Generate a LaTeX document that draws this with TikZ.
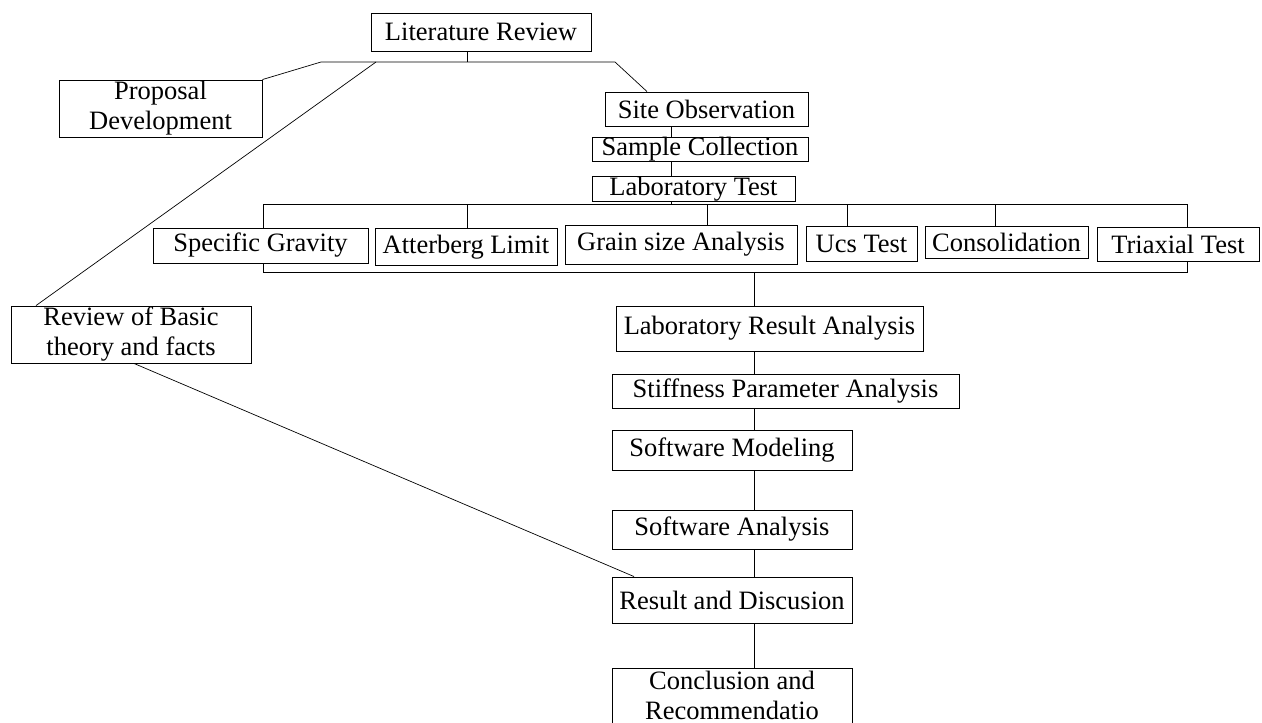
\documentclass[tikz,border=0pt]{standalone}
\usepackage{fontspec}
\setmainfont{Liberation Serif}
\begin{document}
\begin{tikzpicture}[x=1pt,y=-1pt,
  box/.style={draw, line width=0.9pt, inner sep=0pt, align=center,
              font=\fontsize{26.5}{30}\selectfont},
  link/.style={line width=0.7pt}]
\useasboundingbox (0,0) rectangle (1262,723);

% upper part
\node[box, minimum width=220pt, minimum height=38pt] (lit) at (481,32) {Literature Review};
\node[box, minimum width=203pt, minimum height=57pt] (prop) at (160.5,108.5) {Proposal\\Development};
\node[box, minimum width=240pt, minimum height=57pt] (review) at (131,334.5) {Review of Basic\\theory and facts};
\node[box, minimum width=203pt, minimum height=34pt] (site) at (706.5,109) {Site Observation};
\node[box, minimum width=216pt, minimum height=24pt] (sample) at (700,149) {Sample Collection};
\node[box, minimum width=203pt, minimum height=25pt] (labtest) at (693.5,189) {Laboratory Test};

% laboratory tests
\node[box, minimum width=215pt, minimum height=35pt] (sg) at (260.5,245.5) {Specific Gravity};
\node[box, minimum width=182pt, minimum height=37pt] (att) at (466,247) {Atterberg Limit};
\node[box, minimum width=232pt, minimum height=39pt] (grain) at (681,244.5) {Grain size Analysis};
\node[box, minimum width=111pt, minimum height=35pt] (ucs) at (861.5,243.5) {Ucs Test};
\node[box, minimum width=163pt, minimum height=32pt] (cons) at (1006.5,242) {Consolidation};
\node[box, minimum width=162pt, minimum height=34pt] (tri) at (1178,244) {Triaxial Test};

% analysis chain
\node[box, minimum width=307pt, minimum height=45pt] (lra) at (769.5,328.5) {Laboratory Result Analysis};
\node[box, minimum width=347pt, minimum height=34pt] (stiff) at (785.5,391) {Stiffness Parameter Analysis};
\node[box, minimum width=240pt, minimum height=40pt] (smod) at (732,450) {Software Modeling};
\node[box, minimum width=240pt, minimum height=39pt] (sana) at (732,529.5) {Software Analysis};
\node[box, minimum width=240pt, minimum height=46pt] (res) at (732,600) {Result and Discusion};
\node[box, minimum width=240pt, anchor=north, inner ysep=3pt] (conc) at (732,668)
  {Conclusion and\\Recommendatio\rule[-10pt]{0pt}{0pt}};

% junction points
\coordinate (tj) at (467,62);
\coordinate (tl) at (321,62);
\coordinate (tr) at (615,62);
\coordinate (td) at (376,62);
\coordinate (xs) at (647,0);
\coordinate (rt) at (36,0);
\coordinate (lx) at (671,0);
\coordinate (b1) at (263,204);
\coordinate (b2) at (467,204);
\coordinate (b3) at (707,204);
\coordinate (b4) at (847,204);
\coordinate (b5) at (995,204);
\coordinate (b6) at (1187,204);
\coordinate (c1) at (263,272);
\coordinate (c6) at (1187,272);
\coordinate (cm) at (754,272);
\coordinate (vx) at (754,0);
\coordinate (rv) at (134,0);
\coordinate (rs) at (634,0);

% top branching
\draw[link] (lit.south -| tj) -- (tj);
\draw[link] (prop.north east) -- (tl) -- (tr) -- (site.north -| xs);
\draw[link] (td) -- (review.north -| rt);

% field work
\draw[link] (site.south -| lx) -- (sample.north -| lx);
\draw[link] (sample.south -| lx) -- (labtest.north -| lx);
\draw[link] (labtest.south -| lx) -- (lx |- b1);

% distribution to tests
\draw[link] (b1) -- (b6);
\draw[link] (b1) -- (sg.north -| b1);
\draw[link] (b2) -- (att.north -| b2);
\draw[link] (b3) -- (grain.north -| b3);
\draw[link] (b4) -- (ucs.north -| b4);
\draw[link] (b5) -- (cons.north -| b5);
\draw[link] (b6) -- (tri.north -| b6);

% collection of results
\draw[link] (sg.south -| c1) -- (c1) -- (c6) -- (tri.south -| c6);
\draw[link] (cm) -- (lra.north -| cm);

% analysis chain
\draw[link] (lra.south -| vx) -- (stiff.north -| vx);
\draw[link] (stiff.south -| vx) -- (smod.north -| vx);
\draw[link] (smod.south -| vx) -- (sana.north -| vx);
\draw[link] (sana.south -| vx) -- (res.north -| vx);
\draw[link] (res.south -| vx) -- (conc.north -| vx);

% theory feeds the discussion
\draw[link] (review.south -| rv) -- (res.north -| rs);
\end{tikzpicture}
\end{document}
